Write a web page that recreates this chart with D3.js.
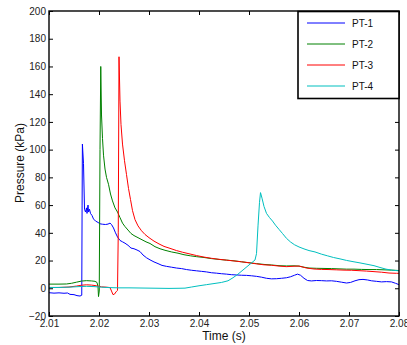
<!DOCTYPE html>
<html>
<head>
<meta charset="utf-8">
<script src="https://cdn.jsdelivr.net/npm/d3@7"></script>
<style>
html,body{margin:0;padding:0;background:#fff;}
svg{display:block;font-family:"Liberation Sans",Arial,sans-serif;}
</style>
</head>
<body>
<svg id="chart" width="407" height="345"></svg>
<script>
// ---- data ----
const seriesNames = ["PT-1", "PT-2", "PT-3", "PT-4"];
const seriesColors = ["#0000ff", "#008000", "#ff0000", "#00bfbf"];
const xTicks = [2.01, 2.02, 2.03, 2.04, 2.05, 2.06, 2.07, 2.08];
const yTicks = [-20, 0, 20, 40, 60, 80, 100, 120, 140, 160, 180, 200];

const pt1 = [[2.0100,-3.2],[2.0110,-3.5],[2.0120,-3.3],[2.0130,-3.6],[2.0137,-3.4],[2.0142,-4.4],[2.0150,-4.6],[2.0156,-5.3],[2.0162,-5.6],[2.01655,-5.0],[2.01662,60],[2.01668,104],[2.0169,90],[2.0171,57],[2.0173,55],[2.0175,58],[2.0176,54],[2.0178,60],[2.0179,55],[2.0181,57],[2.0183,54],[2.0186,52.5],[2.0189,50],[2.0193,48.5],[2.0198,47.5],[2.0202,46.5],[2.0207,46.2],[2.0213,46.0],[2.0218,46.3],[2.0222,47],[2.0225,46],[2.0229,43.5],[2.0233,40],[2.0237,37],[2.0242,34.5],[2.0247,33.5],[2.0252,32.5],[2.0258,31],[2.0264,29],[2.0270,28.5],[2.0276,27.6],[2.0282,26.5],[2.0288,24],[2.0295,22],[2.0302,20.5],[2.0310,19],[2.0318,17.8],[2.0326,16.5],[2.0335,15.8],[2.0345,15.2],[2.0355,14.6],[2.0365,14.2],[2.0375,13.5],[2.0385,13.0],[2.0395,12.6],[2.0405,12.2],[2.0415,11.8],[2.0425,11.2],[2.0435,10.9],[2.0445,10.5],[2.0455,10.2],[2.0465,9.8],[2.0475,9.6],[2.0485,9.4],[2.0495,9.3],[2.0505,9.0],[2.0515,8.6],[2.0525,8.0],[2.0535,7.2],[2.0545,6.8],[2.0555,6.9],[2.0565,7.2],[2.0575,7.6],[2.0583,8.3],[2.0591,9.4],[2.0597,10.2],[2.0603,9.4],[2.0610,7.2],[2.0617,5.6],[2.0625,5.3],[2.0635,5.6],[2.0645,5.5],[2.0655,5.3],[2.0665,5.4],[2.0675,5.0],[2.0685,4.4],[2.0695,3.8],[2.0703,4.2],[2.0712,5.4],[2.0720,6.2],[2.0728,6.4],[2.0737,6.0],[2.0745,5.4],[2.0755,5.0],[2.0765,4.6],[2.0775,4.8],[2.0785,4.6],[2.0793,3.6],[2.0800,2.6]];

const pt2 = [[2.0100,3.0],[2.0120,3.0],[2.0135,3.1],[2.0145,3.6],[2.0155,4.4],[2.0165,5.2],[2.0175,5.5],[2.0185,5.3],[2.0192,5.0],[2.0196,4.2],[2.0198,1],[2.0199,-6],[2.02005,-2],[2.0202,100],[2.02035,160],[2.0205,125],[2.0207,108],[2.0209,96],[2.0212,86],[2.0215,80],[2.0219,75],[2.0223,68],[2.0227,63],[2.0232,58],[2.0237,55],[2.0242,51],[2.0247,47],[2.0252,44.5],[2.0258,42],[2.0264,39.5],[2.0270,38],[2.0278,36.5],[2.0286,35],[2.0294,33.5],[2.0302,32.3],[2.0312,30],[2.0322,28.5],[2.0332,27.4],[2.0345,26.2],[2.0358,25.3],[2.0370,24.2],[2.0383,23.4],[2.0395,22.8],[2.0410,22.2],[2.0425,21.4],[2.0440,20.8],[2.0455,20.3],[2.0470,19.8],[2.0485,19.1],[2.0500,18.4],[2.0515,17.8],[2.0530,17.2],[2.0545,16.8],[2.0560,16.3],[2.0575,16.1],[2.0590,16.2],[2.0600,16.0],[2.0610,15.2],[2.0620,14.6],[2.0635,14.4],[2.0650,14.3],[2.0665,14.2],[2.0680,14.0],[2.0695,13.8],[2.0710,13.8],[2.0725,13.6],[2.0740,13.5],[2.0755,13.5],[2.0770,13.3],[2.0785,13.1],[2.0800,12.8]];

const pt3 = [[2.0100,0.6],[2.0120,0.6],[2.0140,0.9],[2.0155,1.6],[2.0165,2.2],[2.0175,2.5],[2.0185,2.3],[2.0195,1.8],[2.0205,1.0],[2.0215,0.8],[2.0222,0.5],[2.0225,-2.0],[2.0228,-4.6],[2.0231,-4.2],[2.0234,-2.6],[2.0237,-1.5],[2.02385,40],[2.0240,167],[2.0242,135],[2.0244,118],[2.0247,104],[2.0251,92],[2.0255,82],[2.0259,72],[2.0263,64],[2.0267,56],[2.0272,49.5],[2.0278,45],[2.0285,41.5],[2.0292,38.8],[2.0300,36.5],[2.0310,34],[2.0320,32],[2.0330,30.2],[2.0342,28.8],[2.0355,27.2],[2.0367,26],[2.0380,24.9],[2.0395,23.6],[2.0410,22.5],[2.0425,21.6],[2.0440,20.9],[2.0455,20.3],[2.0470,19.7],[2.0485,19.1],[2.0500,18.4],[2.0515,17.6],[2.0530,16.9],[2.0545,16.6],[2.0560,16.0],[2.0575,15.6],[2.0590,15.9],[2.0600,16.0],[2.0615,14.6],[2.0630,13.9],[2.0645,13.6],[2.0660,13.5],[2.0675,13.3],[2.0690,13.1],[2.0705,13.0],[2.0720,12.7],[2.0735,12.4],[2.0750,12.0],[2.0765,11.6],[2.0780,11.0],[2.0795,10.8],[2.0800,10.8]];

const pt4 = [[2.0100,0.5],[2.0120,0.6],[2.0140,0.8],[2.0160,1.2],[2.0175,1.4],[2.0190,1.2],[2.0205,0.8],[2.0220,0.5],[2.0240,0.3],[2.0260,0.3],[2.0280,0.2],[2.0300,0.1],[2.0320,0.0],[2.0340,-0.1],[2.0360,0.0],[2.0372,0.1],[2.0385,0.9],[2.0400,1.8],[2.0415,2.6],[2.0430,3.4],[2.0445,4.2],[2.0458,5.4],[2.0468,7.6],[2.0478,10.2],[2.0488,13.2],[2.0498,16.2],[2.0506,18.6],[2.0512,20.4],[2.0515,25],[2.0518,45],[2.0521,62],[2.0523,69],[2.0526,65],[2.0530,59],[2.0535,54],[2.0541,51],[2.0547,48.5],[2.0553,45.5],[2.0560,42.5],[2.0567,39.5],[2.0575,36],[2.0583,33.4],[2.0591,31.4],[2.0600,29.8],[2.0610,28.4],[2.0620,27.2],[2.0632,26.2],[2.0645,24.6],[2.0657,23.4],[2.0669,22.2],[2.0682,21.2],[2.0695,20.1],[2.0708,19.2],[2.0722,18.3],[2.0736,17.3],[2.0750,16.3],[2.0762,15.0],[2.0774,13.8],[2.0787,13.0],[2.0800,12.6]];

const seriesData = [pt1, pt2, pt3, pt4];

// ---- layout ----
const L = 49, R = 399, T = 11, B = 316;
const svg = d3.select("#chart");
const x = d3.scaleLinear().domain([2.01, 2.08]).range([L, R]);
const y = d3.scaleLinear().domain([-20, 200]).range([B, T]);

svg.append("defs").append("clipPath").attr("id", "clip")
  .append("rect").attr("x", L).attr("y", T).attr("width", R - L).attr("height", B - T);

// lines
const line = d3.line().x(d => x(d[0])).y(d => y(d[1]));
const g = svg.append("g").attr("clip-path", "url(#clip)");
seriesData.forEach((s, i) => {
  g.append("path").datum(s).attr("d", line)
    .attr("fill", "none").attr("stroke", seriesColors[i])
    .attr("stroke-width", 1).attr("stroke-linejoin", "round");
});

// axes with inward ticks
function styleAxis(sel, showText) {
  sel.select(".domain").remove();
  sel.selectAll(".tick line").attr("stroke", "#000").attr("stroke-width", 1);
  sel.selectAll("text").attr("fill", "#222").style("font-size", "10px");
  if (!showText) sel.selectAll("text").remove();
}
const fmtX = d3.format(".2f");
svg.append("g").attr("transform", `translate(0,${B})`)
  .call(d3.axisBottom(x).tickValues(xTicks).tickFormat(fmtX).tickSizeInner(-4).tickSizeOuter(0).tickPadding(4))
  .call(s => styleAxis(s, true));
svg.append("g").attr("transform", `translate(0,${T})`)
  .call(d3.axisTop(x).tickValues(xTicks).tickSizeInner(-4).tickSizeOuter(0))
  .call(s => styleAxis(s, false));
svg.append("g").attr("transform", `translate(${L},0)`)
  .call(d3.axisLeft(y).tickValues(yTicks).tickFormat(d3.format("d")).tickSizeInner(-4).tickSizeOuter(0).tickPadding(3))
  .call(s => styleAxis(s, true));
svg.append("g").attr("transform", `translate(${R},0)`)
  .call(d3.axisRight(y).tickValues(yTicks).tickSizeInner(-4).tickSizeOuter(0))
  .call(s => styleAxis(s, false));

// frame
svg.append("rect").attr("x", L).attr("y", T).attr("width", R - L).attr("height", B - T)
  .attr("fill", "none").attr("stroke", "#000").attr("stroke-width", 1.4);

// axis titles
svg.append("text").attr("x", 224).attr("y", 340).attr("text-anchor", "middle")
  .style("font-size", "12px").attr("fill", "#111").text("Time (s)");
svg.append("text").attr("transform", "translate(24,163) rotate(-90)").attr("text-anchor", "middle")
  .style("font-size", "12px").attr("fill", "#111").text("Pressure (kPa)");

// legend
const lg = svg.append("g");
lg.append("rect").attr("x", 298).attr("y", 11.5).attr("width", 101).attr("height", 87)
  .attr("fill", "#fff").attr("stroke", "#000").attr("stroke-width", 1.6);
const legY = d3.scalePoint().domain(seriesNames).range([23, 86]);
seriesNames.forEach((n, i) => {
  lg.append("line").attr("x1", 307).attr("x2", 345).attr("y1", legY(n)).attr("y2", legY(n))
    .attr("stroke", seriesColors[i]).attr("stroke-width", 1);
  lg.append("text").attr("x", 352).attr("y", legY(n)).attr("dy", "0.35em")
    .style("font-size", "10px").attr("fill", "#111").text(n);
});
</script>
</body>
</html>
